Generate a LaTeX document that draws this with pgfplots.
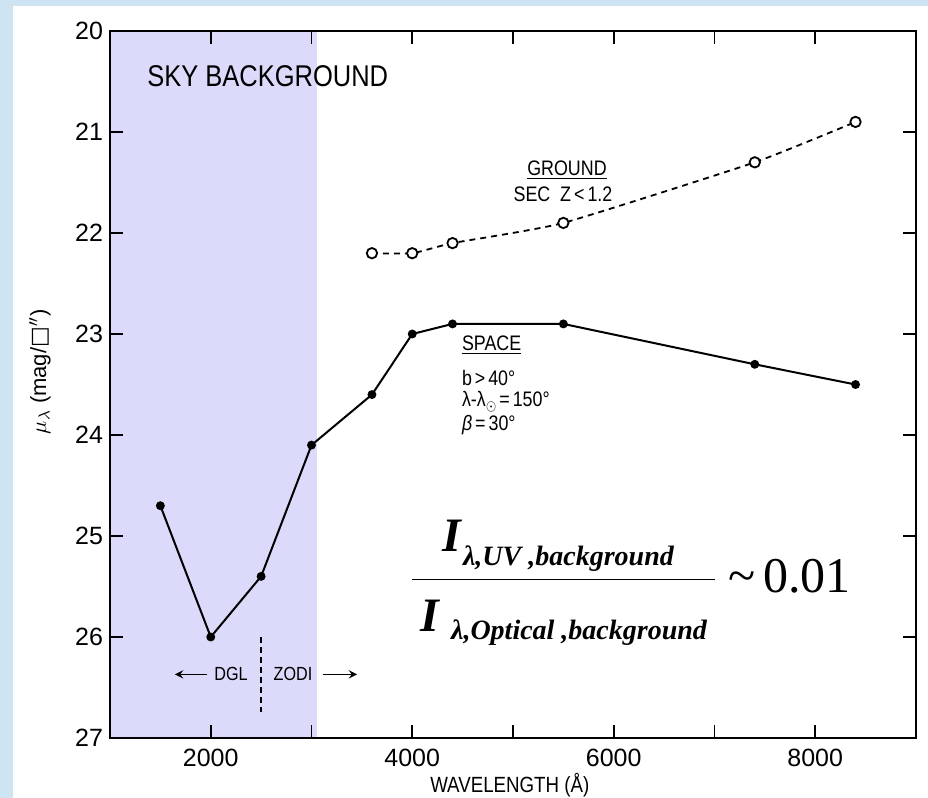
\documentclass[border=0pt]{standalone}
\usepackage{graphicx}
\usepackage{pgfplots}
\pgfplotsset{compat=1.18}
\usepackage{fontspec}
\setmainfont{Liberation Sans}
\newfontfamily\tnr{Liberation Serif}
\newfontfamily\dejavu{DejaVu Sans}
\definecolor{bgblue}{RGB}{206,228,243}
\definecolor{lav}{RGB}{220,218,250}
\newcommand{\cond}[1]{\scalebox{0.85}[1]{#1}}
\begin{document}
\begin{tikzpicture}
\fill[bgblue] (-55pt,-30pt) rectangle (409pt,369pt);
\fill[white] (-48.5pt,-30pt) rectangle (409pt,366pt);
\useasboundingbox (-55pt,-30pt) rectangle (409pt,369pt);
\begin{axis}[
  at={(0pt,0pt)}, anchor=south west,
  scale only axis, width=403pt, height=353.5pt,
  xmin=1000, xmax=9000, ymin=20, ymax=27, y dir=reverse,
  xtick={2000,4000,6000,8000}, minor xtick={3000,5000,7000},
  ytick={20,21,22,23,24,25,26,27},
  tick align=inside, tick pos=both,
  major tick length=6.5pt, minor tick length=6.5pt,
  every tick/.style={black, line width=0.9pt},
  axis line style={line width=1pt},
  axis on top,
  /pgf/number format/1000 sep={},
  /pgf/number format/assume math mode=true,
  ticklabel style={font=\fontsize{12.5}{14}\selectfont},
  xticklabel style={yshift=-2pt},
  xlabel={\cond{WAVELENGTH (Å)}},
  xlabel style={at={(axis description cs:0.496,-0.0665)}, anchor=center, font=\fontsize{11}{12}\selectfont},
  ylabel={\(\mu_{\lambda}\) (mag/{\dejavu\char"25A1}\(''\))},
  ylabel style={at={(axis description cs:-0.0868,0.518)}, anchor=center, font=\fontsize{11}{12}\selectfont},
]
\addplot[fill=lav, draw=none, forget plot] coordinates {(1000,20) (3050,20) (3050,27) (1000,27)} -- cycle;

\addplot[black, line width=1pt, mark=*, mark size=1.7pt] coordinates {
  (1500,24.7) (2000,26.0) (2500,25.4) (3000,24.1) (3600,23.6)
  (4000,23.0) (4400,22.9) (5500,22.9) (7400,23.3) (8400,23.5)};

\addplot[black, line width=0.9pt, dash pattern=on 3pt off 2.5pt, smooth, tension=0.3,
  mark=*, mark size=2.6pt, mark options={solid, fill=white, draw=black}] coordinates {
  (3600,22.2) (4000,22.2) (4400,22.1) (5500,21.9) (7400,21.3) (8400,20.9)};

\node[anchor=west, font=\fontsize{15}{18}\selectfont] at (axis cs:1300,20.45) {\cond{SKY BACKGROUND}};

\node[font=\fontsize{10.5}{12}\selectfont] at (axis cs:5536,21.38) {\cond{\underline{GROUND}}};
\node[font=\fontsize{10.5}{12}\selectfont] at (axis cs:5496,21.62) {\cond{SEC \ Z\,<\,1.2}};

\node[anchor=west, font=\fontsize{10.5}{12}\selectfont] at (axis cs:4424,23.11) {\cond{\underline{SPACE}}};
\node[anchor=west, font=\fontsize{10.5}{12}\selectfont] at (axis cs:4424,23.44) {\cond{b\,>\,40°}};
\node[anchor=west, font=\fontsize{10.5}{12}\selectfont] at (axis cs:4424,23.67) {\cond{λ-λ\raisebox{-0.35ex}{\(\scriptstyle\odot\)}\,=\,150°}};
\node[anchor=west, font=\fontsize{10.5}{12}\selectfont] at (axis cs:4424,23.90) {\cond{\textit{β}\,=\,30°}};

\node[font=\fontsize{9.5}{11}\selectfont] at (axis cs:2201,26.37) {\cond{DGL}};
\node[font=\fontsize{9.5}{11}\selectfont] at (axis cs:2816,26.37) {\cond{ZODI}};
\draw[-stealth, line width=0.8pt] (axis cs:1963,26.37) -- (axis cs:1645,26.37);
\draw[-stealth, line width=0.8pt] (axis cs:3114,26.37) -- (axis cs:3452,26.37);
\draw[line width=0.9pt, dash pattern=on 3pt off 2pt] (axis cs:2500,26.0) -- (axis cs:2500,26.74);

\draw[line width=0.9pt] (axis cs:3997,25.43) -- (axis cs:7005,25.43);
\node[anchor=base west, inner sep=0pt] at (axis cs:4295,25.158)
  {\tnr\bfseries\itshape\fontsize{24}{24}\selectfont I\kern1pt\raisebox{-7pt}{\fontsize{14}{14}\selectfont λ,UV ,background}};
\node[anchor=base west, inner sep=0pt] at (axis cs:4077,25.95)
  {\tnr\bfseries\itshape\fontsize{24}{24}\selectfont I\kern6pt\raisebox{-4pt}{\fontsize{14}{14}\selectfont λ,Optical ,background}};
\node[anchor=base west, inner sep=0pt] at (axis cs:7134,25.564)
  {\tnr\fontsize{25}{25}\selectfont\char"7E\kern4pt 0.01};
\end{axis}
\end{tikzpicture}
\end{document}
